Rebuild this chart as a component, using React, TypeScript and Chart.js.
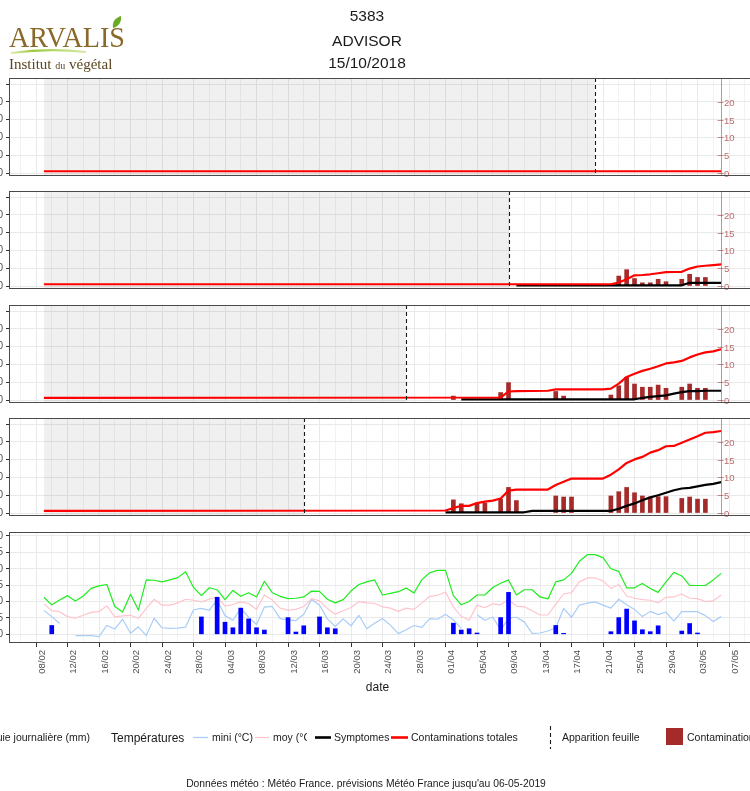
import React, { useEffect, useRef } from "react";
import { Chart, registerables } from "chart.js";

Chart.register(...registerables);

const FONT = "'Liberation Sans', Arial, Helvetica, sans-serif";
const SERIF = "'Liberation Serif', 'DejaVu Serif', serif";

// ---- x axis: day numbers counted from 08/02/2019 (day 0) ----
const TICK_DAYS = [0, 4, 8, 12, 16, 20, 24, 28, 32, 36, 40, 44, 48, 52, 56, 60, 64, 68, 72, 76, 80, 84, 88];
const TICK_LABELS = ["08/02", "12/02", "16/02", "20/02", "24/02", "28/02", "04/03", "08/03", "12/03", "16/03", "20/03", "24/03", "28/03", "01/04", "05/04", "09/04", "13/04", "17/04", "21/04", "25/04", "29/04", "03/05", "07/05"];
const GRID_DAYS = [-2, 0, 2, 4, 6, 8, 10, 12, 14, 16, 18, 20, 22, 24, 26, 28, 30, 32, 34, 36, 38, 40, 42, 44, 46, 48, 50, 52, 54, 56, 58, 60, 62, 64, 66, 68, 70, 72, 74, 76, 78, 80, 82, 84, 86, 88, 90];

// ---- weather (days 1..87 = 09/02 .. 06/05) ----
const T_MAX = [11.3, 9.0, 10.5, 11.8, 10.2, 11.7, 14.0, 14.8, 15.2, 8.5,
  6.8, 12.2, 7.4, 16.6, 16.5, 16.0, 16.6, 17.3, 19.1, 14.3,
  11.8, 14.2, 13.6, 10.6, 13.4, 11.6, 12.7, 11.4, 16.2, 12.7,
  11.6, 10.9, 11.0, 11.4, 13.2, 13.1, 10.7, 9.6, 10.6, 13.2,
  15.2, 16.0, 16.6, 12.0, 12.5, 13.0, 14.1, 12.6, 16.7, 18.8,
  19.5, 19.5, 11.8, 9.0, 10.0, 12.0, 12.0, 14.3, 15.6, 16.6,
  12.0, 13.6, 13.6, 11.4, 10.8, 16.0, 16.6, 18.6, 22.3, 24.3,
  24.3, 23.4, 20.0, 19.2, 14.2, 14.2, 15.5, 14.0, 12.8, 16.0,
  18.9, 17.8, 14.9, 14.9, 14.9, 16.6, 18.6];
const T_MOY = [9.3, 7.2, 6.9, 5.4, 4.9, 5.8, 6.7, 6.9, 8.7, 5.3,
  5.6, 5.8, 4.9, 7.9, 10.7, 8.9, 8.9, 9.6, 10.7, 10.4,
  9.9, 10.7, 11.4, 8.6, 9.1, 9.9, 9.4, 7.6, 12.0, 10.5,
  8.0, 7.4, 7.6, 8.5, 10.9, 10.2, 7.9, 6.1, 7.2, 8.2,
  10.0, 9.6, 9.4, 8.4, 8.0, 7.0, 8.0, 7.6, 9.6, 11.6,
  11.9, 12.9, 8.3, 5.5, 4.3, 8.9, 8.1, 9.3, 9.0, 10.6,
  8.6, 8.4, 7.2, 5.9, 5.9, 9.2, 12.3, 12.7, 16.0, 17.2,
  17.2, 16.3, 14.0, 15.2, 11.7, 11.0, 10.6, 10.4, 9.6, 11.3,
  11.4, 12.3, 11.0, 10.9, 10.0, 10.2, 12.0];
const T_MIN = [7.3, 5.4, 3.3, null, -0.4, -0.4, -0.4, -0.7, 2.7, 1.6,
  4.6, 0.3, 2.3, -0.4, 4.9, 2.0, 1.8, 1.9, 2.2, 7.5,
  7.9, 7.3, 10.5, 5.7, 4.3, 7.9, 5.2, 3.0, 8.3, 8.5,
  4.8, 4.4, 4.2, 6.1, 10.6, 8.9, 4.7, 2.4, 4.7, 2.6,
  5.8, 1.7, 3.4, 4.8, 2.8, 0.2, 1.4, 2.7, 2.1, 4.8,
  4.6, 6.1, 4.4, 1.8, null, 6.0, 4.3, 5.3, 1.3, 4.9,
  5.2, 3.8, 0.3, 0.4, 1.0, 2.0, 7.9, 5.2, 8.9, 9.5,
  9.9, 8.9, 8.0, 10.7, 9.0, 7.6, 5.4, 7.0, 6.0, 6.8,
  4.0, 6.9, 6.9, 6.9, 5.7, 3.9, 5.4];
const WEATHER_DAYS = T_MAX.map((_, i) => i + 1);

const RAIN_DAYS = [2, 21, 23, 24, 25, 26, 27, 28, 29, 32, 33, 34, 36, 37, 38, 53, 54, 55, 56, 59, 60, 66, 67, 73, 74, 75, 76, 77, 78, 79, 82, 83, 84];
const RAIN_MM = [2.7, 5.3, 11.3, 3.7, 2.0, 8.0, 4.7, 2.0, 1.3, 5.1, 0.7, 2.6, 5.3, 2.0, 1.7, 3.4, 1.3, 1.7, 0.4, 5.1, 12.8, 2.7, 0.3, 0.8, 5.1, 7.7, 4.1, 1.4, 0.8, 2.6, 1.0, 3.3, 0.4];

// ---- leaf panels ----
const LEAF_DAYS = [71, 60, 47, 34]; // "Apparition feuille"
const SHADE_START = 1;
const RIGHT_AXIS_DAY = 87;
const RIGHT_TICKS = [0, 5, 10, 15, 20];

const TOT1_DAYS = [1, 87];
const TOT1 = [0.5, 0.5];

const TOT2_DAYS = [1, 73, 74, 75, 76, 77, 78, 79, 80, 81, 82, 83, 84, 85, 86, 87];
const TOT2 = [0.5, 0.5, 1.0, 1.9, 3.0, 3.1, 3.3, 3.6, 3.9, 3.95, 4.0, 4.9, 5.5, 5.7, 5.9, 6.1];
const SYM2_DAYS = [61, 82, 83, 87];
const SYM2 = [0.2, 0.2, 0.9, 0.9];
const CONT2_DAYS = [74, 75, 76, 77, 78, 79, 80, 82, 83, 84, 85];
const CONT2 = [2.8, 4.6, 2.1, 0.9, 0.9, 1.9, 1.2, 1.9, 3.3, 2.4, 2.4];

const TOT3_DAYS = [1, 59, 60, 61, 65, 66, 72, 73, 74, 75, 76, 77, 78, 79, 80, 81, 82, 83, 84, 85, 86, 87];
const TOT3 = [0.6, 0.7, 2.4, 2.5, 2.6, 3.0, 3.0, 3.2, 4.6, 6.5, 7.4, 8.2, 8.8, 9.5, 10.3, 10.6, 11.0, 12.0, 12.8, 13.4, 13.7, 14.3];
const SYM3_DAYS = [54, 76, 77, 78, 79, 80, 81, 82, 83, 84, 85, 86, 87];
const SYM3 = [0.2, 0.2, 0.6, 0.9, 1.1, 1.3, 1.8, 2.2, 2.5, 2.5, 2.6, 2.6, 2.6];
const CONT3_DAYS = [53, 59, 60, 66, 67, 73, 74, 75, 76, 77, 78, 79, 80, 82, 83, 84, 85];
const CONT3 = [1.1, 2.1, 4.9, 2.4, 1.1, 1.4, 4.0, 6.4, 4.5, 3.6, 3.6, 4.2, 3.3, 3.6, 4.5, 3.3, 3.3];

const TOT4_DAYS = [1, 52, 53, 54, 55, 56, 57, 58, 59, 60, 61, 65, 66, 67, 68, 72, 73, 74, 75, 76, 77, 78, 79, 80, 81, 82, 83, 84, 85, 86, 87];
const TOT4 = [0.6, 0.7, 1.4, 2.0, 2.0, 2.8, 3.2, 3.5, 4.1, 6.3, 6.6, 6.6, 7.9, 8.8, 9.7, 9.7, 10.8, 12.3, 14.1, 15.1, 15.8, 17.0, 17.7, 18.8, 18.9, 19.8, 20.7, 21.6, 22.6, 22.8, 23.1];
const SYM4_DAYS = [52, 62, 63, 73, 74, 75, 76, 77, 78, 79, 80, 81, 82, 83, 84, 85, 86, 87];
const SYM4 = [0.2, 0.2, 0.6, 0.6, 1.2, 2.0, 2.7, 3.6, 4.4, 5.0, 5.7, 6.4, 6.9, 7.1, 7.5, 7.9, 8.2, 8.7];
const CONT4_DAYS = [53, 54, 56, 57, 59, 60, 61, 66, 67, 68, 73, 74, 75, 76, 77, 78, 79, 80, 82, 83, 84, 85];
const CONT4 = [3.7, 2.6, 2.8, 2.8, 3.9, 7.2, 3.5, 4.8, 4.5, 4.5, 4.8, 6.0, 7.2, 5.7, 4.8, 4.5, 4.6, 4.6, 4.1, 4.5, 3.9, 3.9];

const PANEL_Y_TICKS = [0, 2.5, 5, 7.5, 10, 12.5, 15, 17.5, 20, 22.5, 25];
const PANEL_Y_LABELS = ["0", "", "10", "", "20", "", "30", "", "40", "", ""];
const WEATHER_Y_TICKS = [0, 2.5, 5, 7.5, 10, 12.5, 15, 17.5, 20, 22.5, 25, 27.5, 30];
const WEATHER_Y_LABELS = ["0", "", "5", "", "10", "", "15", "", "20", "", "25", "", "30"];

// ---- layout constants ----
const X_MIN = -3.43;
const X_MAX = 91.3;
const CANVAS_LEFT = -40;
const CANVAS_W = 800;
const Y_AXIS_W = 49;
const PAD_R = 5;
const PAD_V = 4;
const X_AXIS_H = 42;

const COL_RED = "#ff0000";
const COL_CONT = "#a52a2a";
const AXIS_RED = "rgba(170,70,70,0.6)";
const AXIS_RED_TXT = "rgba(165,70,70,0.8)";

type Spec = {
  key: string;
  top: number;
  height: number;
  yMin: number;
  yMax: number;
  yTicks: number[];
  yLabels: string[];
  xLabels: boolean;
  leafDay: number | null;
  rightAxis: boolean;
  datasets: any[];
};

const pts = (days: number[], vals: (number | null)[]) => days.map((d, i) => ({ x: d, y: vals[i] }));

const lineDs = (days: number[], vals: (number | null)[], color: string, width: number, order: number) => ({
  type: "line",
  data: pts(days, vals),
  borderColor: color,
  backgroundColor: color,
  borderWidth: width,
  pointRadius: 0,
  fill: false,
  tension: 0,
  spanGaps: false,
  borderCapStyle: "butt",
  borderJoinStyle: "round",
  order,
});

const barDs = (days: number[], vals: number[], color: string, order: number) => ({
  type: "bar",
  data: pts(days, vals),
  backgroundColor: color,
  borderWidth: 0,
  barThickness: 4,
  order,
});

const PANEL_TOPS = [78, 191, 305, 418];
const PANEL_H = 98;
const P_MAX = 26.76;
const P_MIN = -0.845;

const panelSets = [
  [lineDs(TOT1_DAYS, TOT1, COL_RED, 2.2, 0)],
  [barDs(CONT2_DAYS, CONT2, COL_CONT, 2), lineDs(SYM2_DAYS, SYM2, "#000000", 2.2, 1), lineDs(TOT2_DAYS, TOT2, COL_RED, 2.2, 0)],
  [barDs(CONT3_DAYS, CONT3, COL_CONT, 2), lineDs(SYM3_DAYS, SYM3, "#000000", 2.2, 1), lineDs(TOT3_DAYS, TOT3, COL_RED, 2.2, 0)],
  [barDs(CONT4_DAYS, CONT4, COL_CONT, 2), lineDs(SYM4_DAYS, SYM4, "#000000", 2.2, 1), lineDs(TOT4_DAYS, TOT4, COL_RED, 2.2, 0)],
];

const SPECS: Spec[] = [
  ...PANEL_TOPS.map((top, i) => ({
    key: "p" + i,
    top,
    height: PANEL_H,
    yMin: P_MIN,
    yMax: P_MAX,
    yTicks: PANEL_Y_TICKS,
    yLabels: PANEL_Y_LABELS,
    xLabels: false,
    leafDay: LEAF_DAYS[i],
    rightAxis: true,
    datasets: panelSets[i],
  })),
  {
    key: "meteo",
    top: 532,
    height: 111,
    yMin: -2.65,
    yMax: 31.22,
    yTicks: WEATHER_Y_TICKS,
    yLabels: WEATHER_Y_LABELS,
    xLabels: true,
    leafDay: null,
    rightAxis: false,
    datasets: [
      barDs(RAIN_DAYS, RAIN_MM, "#0000ff", 0),
      lineDs(WEATHER_DAYS, T_MAX, "#1eec1e", 1.2, 1),
      lineDs(WEATHER_DAYS, T_MOY, "#ffc4cc", 1.2, 2),
      lineDs(WEATHER_DAYS, T_MIN, "#a8cdf6", 1.2, 3),
    ],
  },
];

const near = (a: number, b: number) => Math.abs(a - b) < 1e-6;
const isMajorX = (v: any) => typeof v === "number" && near(((v % 4) + 4) % 4, 0);
const isMajorY = (v: any) => typeof v === "number" && near(v % 5, 0);

function buildConfig(spec: Spec): any {
  const deco = {
    id: "deco",
    beforeDatasetsDraw(chart: any) {
      const { ctx, chartArea: a } = chart;
      const x = chart.scales.x;
      if (spec.leafDay !== null) {
        const x0 = x.getPixelForValue(SHADE_START);
        const x1 = x.getPixelForValue(spec.leafDay);
        ctx.save();
        ctx.fillStyle = "rgba(0,0,0,0.058)";
        ctx.fillRect(x0, a.top, x1 - x0, a.bottom - a.top);
        ctx.restore();
      }
    },
    afterDatasetsDraw(chart: any) {
      const { ctx, chartArea: a } = chart;
      const x = chart.scales.x;
      const y = chart.scales.y;
      if (spec.leafDay !== null) {
        const xl = Math.round(x.getPixelForValue(spec.leafDay)) + 0.5;
        ctx.save();
        ctx.strokeStyle = "#1a1a1a";
        ctx.lineWidth = 1.1;
        ctx.setLineDash([4, 3]);
        ctx.beginPath();
        ctx.moveTo(xl, a.top);
        ctx.lineTo(xl, a.bottom);
        ctx.stroke();
        ctx.restore();
      }
      if (spec.rightAxis) {
        const xr = Math.round(x.getPixelForValue(RIGHT_AXIS_DAY)) + 0.5;
        ctx.save();
        ctx.strokeStyle = AXIS_RED;
        ctx.lineWidth = 1;
        ctx.beginPath();
        ctx.moveTo(xr, a.top);
        ctx.lineTo(xr, a.bottom);
        ctx.stroke();
        ctx.font = `9.5px ${FONT}`;
        ctx.fillStyle = AXIS_RED_TXT;
        ctx.textAlign = "left";
        ctx.textBaseline = "middle";
        RIGHT_TICKS.forEach((v) => {
          const yy = Math.round(y.getPixelForValue(v)) + 0.5;
          ctx.beginPath();
          ctx.moveTo(xr - 4, yy);
          ctx.lineTo(xr + 2, yy);
          ctx.stroke();
          ctx.fillText(String(v), xr + 2.5, yy + 0.5);
        });
        ctx.restore();
      }
    },
    afterDraw(chart: any) {
      const { ctx, chartArea: a } = chart;
      ctx.save();
      ctx.strokeStyle = "#4a4a4a";
      ctx.lineWidth = 1;
      const l = Math.round(a.left) + 0.5;
      const t = Math.round(a.top) + 0.5;
      ctx.strokeRect(l, t, Math.round(a.right - a.left) - 1, Math.round(a.bottom - a.top) - 1);
      ctx.restore();
    },
  };

  return {
    type: "bar",
    data: { datasets: spec.datasets },
    options: {
      animation: false,
      responsive: false,
      maintainAspectRatio: false,
      devicePixelRatio: 1,
      events: [],
      layout: { padding: { left: 0, right: PAD_R, top: PAD_V, bottom: PAD_V } },
      plugins: { legend: { display: false }, tooltip: { enabled: false }, title: { display: false } },
      scales: {
        x: {
          type: "linear",
          min: X_MIN,
          max: X_MAX,
          offset: false,
          afterBuildTicks: (s: any) => {
            s.ticks = GRID_DAYS.map((v) => ({ value: v }));
          },
          afterFit: (s: any) => {
            s.height = spec.xLabels ? X_AXIS_H : 0;
            s.paddingLeft = 0;
            s.paddingRight = 0;
            s.paddingTop = 0;
            s.paddingBottom = 0;
          },
          grid: {
            offset: false,
            color: (c: any) => (isMajorX(c.tick && c.tick.value) ? "#e9e9e9" : "#f2f2f2"),
            lineWidth: 1,
            drawTicks: spec.xLabels,
            tickLength: 4,
            tickColor: (c: any) => (isMajorX(c.tick && c.tick.value) ? "#333333" : "rgba(0,0,0,0)"),
          },
          border: { display: false },
          ticks: {
            display: spec.xLabels,
            autoSkip: false,
            maxRotation: 90,
            minRotation: 90,
            padding: 3,
            labelOffset: 6,
            color: "#4d4d4d",
            font: { size: 9.5, family: FONT },
            callback: (v: any) => {
              const i = TICK_DAYS.indexOf(v);
              return i >= 0 ? TICK_LABELS[i] : "";
            },
          },
        },
        y: {
          type: "linear",
          min: spec.yMin,
          max: spec.yMax,
          afterBuildTicks: (s: any) => {
            s.ticks = spec.yTicks.map((v) => ({ value: v }));
          },
          afterFit: (s: any) => {
            s.width = Y_AXIS_W;
            s.paddingTop = 0;
            s.paddingBottom = 0;
            s.paddingLeft = 0;
            s.paddingRight = 0;
          },
          grid: {
            color: (c: any) => (isMajorY(c.tick && c.tick.value) ? "#e9e9e9" : "#f2f2f2"),
            lineWidth: 1,
            tickLength: 3,
            tickColor: (c: any) => (isMajorY(c.tick && c.tick.value) ? "#333333" : "rgba(0,0,0,0)"),
          },
          border: { display: false },
          ticks: {
            padding: 3,
            color: "#4d4d4d",
            font: { size: 10, family: FONT },
            callback: (v: any) => {
              const i = spec.yTicks.findIndex((t) => near(t, v));
              return i >= 0 ? spec.yLabels[i] : "";
            },
          },
        },
      },
    },
    plugins: [deco],
  };
}

function Panel({ spec }: { spec: Spec }) {
  const ref = useRef<HTMLCanvasElement>(null);
  const h = PAD_V * 2 + spec.height + (spec.xLabels ? X_AXIS_H : 0);
  useEffect(() => {
    const chart = new Chart(ref.current as HTMLCanvasElement, buildConfig(spec));
    return () => chart.destroy();
  }, [spec]);
  return (
    <canvas
      ref={ref}
      width={CANVAS_W}
      height={h}
      style={{ position: "absolute", left: CANVAS_LEFT, top: spec.top - PAD_V, width: CANVAS_W, height: h }}
    />
  );
}

function Overlay() {
  const txt = { fontFamily: FONT, fill: "#1a1a1a" } as any;
  return (
    <svg width={750} height={791} style={{ position: "absolute", left: 0, top: 0 }}>
      <defs>
        <clipPath id="moyClip">
          <rect x={0} y={700} width={307} height={60} />
        </clipPath>
        <linearGradient id="swoosh" x1="0" x2="1" y1="0" y2="0">
          <stop offset="0" stopColor="#a6cf3a" stopOpacity="0.4" />
          <stop offset="0.3" stopColor="#9cc83a" />
          <stop offset="1" stopColor="#b9d96a" stopOpacity="0.6" />
        </linearGradient>
      </defs>
      {/* logo */}
      <text x={9} y={47} fontFamily={SERIF} fontSize={29} fill="#8a6a2a" textLength={116} lengthAdjust="spacingAndGlyphs">ARVALIS</text>
      <path d="M113 28 C112 22 115 18 121 16 C122 22 118 27 113 28 Z" fill="#6aad25" />
      <path d="M11 53 Q48 48 86 52" stroke="url(#swoosh)" strokeWidth={2.2} fill="none" />
      <text x={9} y={69} fontFamily={SERIF} fontSize={15} fill="#5c4520">
        Institut <tspan fontSize={10}>du</tspan> végétal
      </text>
      {/* title */}
      <text x={367} y={20.5} textAnchor="middle" fontSize={15.5} {...txt}>5383</text>
      <text x={367} y={45.5} textAnchor="middle" fontSize={15.5} {...txt}>ADVISOR</text>
      <text x={367} y={68} textAnchor="middle" fontSize={15.5} {...txt}>15/10/2018</text>
      {/* axis title */}
      <text x={377.5} y={691} textAnchor="middle" fontSize={12} {...txt}>date</text>
      {/* legend */}
      <text x={90} y={741} textAnchor="end" fontSize={10.5} {...txt}>Pluie journalière (mm)</text>
      <text x={111} y={742} fontSize={12} {...txt}>Températures</text>
      <line x1={193} x2={208} y1={737.5} y2={737.5} stroke="#a8cdf6" strokeWidth={1.3} />
      <text x={212} y={741} fontSize={10.5} {...txt}>mini (°C)</text>
      <line x1={255} x2={269} y1={737.5} y2={737.5} stroke="#ffc4cc" strokeWidth={1.3} />
      <g clipPath="url(#moyClip)">
        <text x={273} y={741} fontSize={10.5} {...txt}>moy (°C)</text>
      </g>
      <line x1={315} x2={331} y1={737.5} y2={737.5} stroke="#000" strokeWidth={2.6} />
      <text x={334} y={741} fontSize={10.5} {...txt}>Symptomes</text>
      <line x1={391} x2={408} y1={737.5} y2={737.5} stroke={COL_RED} strokeWidth={2.6} />
      <text x={411} y={741} fontSize={10.5} {...txt}>Contaminations totales</text>
      <line x1={550.5} x2={550.5} y1={726} y2={749} stroke="#1a1a1a" strokeWidth={1.1} strokeDasharray="4 3" />
      <text x={562} y={741} fontSize={10.5} {...txt}>Apparition feuille</text>
      <rect x={666} y={728} width={17} height={17} fill={COL_CONT} />
      <text x={687} y={741} fontSize={10.5} {...txt}>Contamination</text>
      {/* footer */}
      <text x={366} y={787} textAnchor="middle" fontSize={10.3} {...txt}>
        Données météo : Météo France. prévisions Météo France jusqu'au 06-05-2019
      </text>
    </svg>
  );
}

export default function App() {
  return (
    <div style={{ position: "absolute", left: 0, top: 0, width: 750, height: 791, overflow: "hidden", background: "#fff" }}>
      {SPECS.map((s) => (
        <Panel key={s.key} spec={s} />
      ))}
      <Overlay />
    </div>
  );
}
